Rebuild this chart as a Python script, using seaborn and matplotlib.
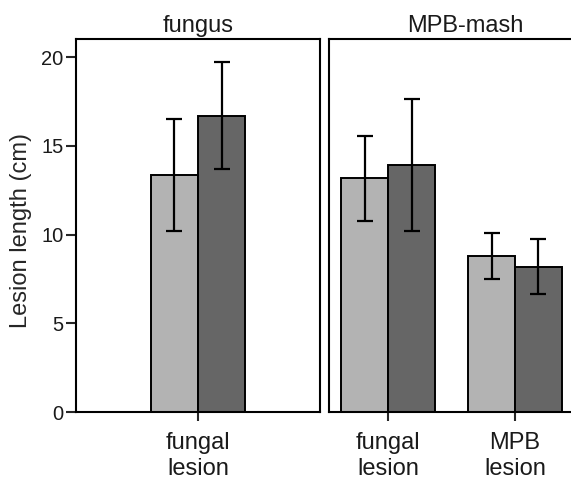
import matplotlib
matplotlib.use("Agg")
import matplotlib.pyplot as plt
import seaborn as sns
import pandas as pd
import numpy as np

# ---- data ----
panels = ["fungus", "MPB-mash"]
treatments = ["treatment 1", "treatment 2"]
fungus_categories = ["fungal\nlesion"]
fungus_means = [13.35, 16.70]          # per treatment
fungus_errs = [3.15, 3.00]
mash_categories = ["fungal\nlesion", "MPB\nlesion"]
mash_means_t1 = [13.16, 8.79]
mash_means_t2 = [13.91, 8.19]
mash_errs_t1 = [2.40, 1.29]
mash_errs_t2 = [3.73, 1.56]
yticks = [0, 5, 10, 15, 20]
colors = ["#b3b3b3", "#666666"]

sns.set_style("white")
plt.rcParams["font.family"] = ["Liberation Sans", "DejaVu Sans"]
plt.rcParams["text.color"] = "#1a1a1a"
plt.rcParams["xtick.labelcolor"] = "#1a1a1a"
plt.rcParams["ytick.labelcolor"] = "#1a1a1a"

df_f = pd.DataFrame({
    "lesion": fungus_categories * 2,
    "treatment": treatments,
    "length": fungus_means,
    "err": fungus_errs,
})
df_m = pd.DataFrame({
    "lesion": mash_categories * 2,
    "treatment": [treatments[0]] * 2 + [treatments[1]] * 2,
    "length": mash_means_t1 + mash_means_t2,
    "err": mash_errs_t1 + mash_errs_t2,
})

W, H = 571, 486
fig = plt.figure(figsize=(W / 100, H / 100), dpi=100)
bottom = 74 / H
height = (412 - 39.3) / H
ax1 = fig.add_axes([76 / W, bottom, (320 - 76) / W, height])
ax2 = fig.add_axes([329 / W, bottom, (602 - 329) / W, height])


def draw(ax, df, order, xlim, title):
    sns.barplot(data=df, x="lesion", y="length", hue="treatment", order=order,
                hue_order=treatments, palette=colors, width=0.74, errorbar=None,
                edgecolor="black", linewidth=1.4, legend=False, ax=ax)
    # error bars placed at bar centres
    for patch in ax.patches:
        if patch.get_width() == 0:
            continue
        cx = patch.get_x() + patch.get_width() / 2
        h = patch.get_height()
        sub = df[np.isclose(df["length"], h)]
        e = sub["err"].iloc[0]
        ax.errorbar(cx, h, yerr=e, color="black", capsize=6, elinewidth=1.6,
                    capthick=1.6, fmt="none", zorder=5)
    ax.set_xlim(*xlim)
    ax.set_ylim(0, 21)
    ax.set_xlabel("")
    ax.set_title(title, fontsize=17, pad=5)
    for s in ax.spines.values():
        s.set_visible(True)
        s.set_color("black")
        s.set_linewidth(1.5)
    ax.tick_params(axis="x", bottom=True, direction="out", length=6.5, width=1.5,
                   labelsize=17, pad=8)


draw(ax1, df_f, fungus_categories, (-0.96, 0.96), panels[0])
draw(ax2, df_m, mash_categories, (-0.468, 1.687), panels[1])

ax1.set_yticks(yticks)
ax1.tick_params(axis="y", left=True, direction="out", length=7, width=1.5,
                labelsize=14.5, pad=2)
ax1.set_ylabel("Lesion length (cm)", fontsize=17, va="center")
ax1.yaxis.set_label_coords(-0.225, 0.487)

ax2.set_yticks(yticks)
ax2.tick_params(axis="y", left=False, labelleft=False)
ax2.set_ylabel("")

fig.savefig("out.png", dpi=100)
